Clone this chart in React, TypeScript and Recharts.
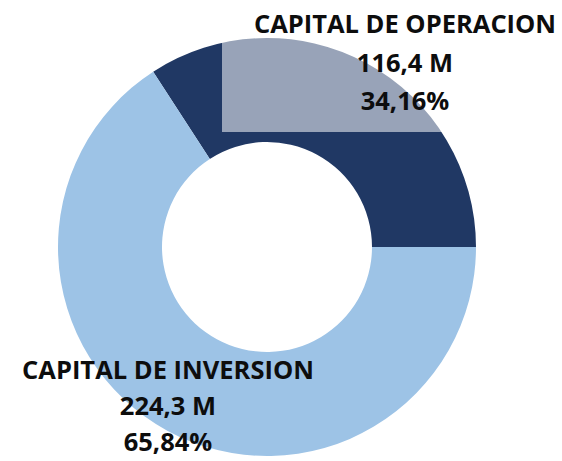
import React from "react";
import { PieChart, Pie, Cell } from "recharts";

const categories = ["CAPITAL DE OPERACION", "CAPITAL DE INVERSION"];
const amounts = [116.4, 224.3];
const COLORS = ["#203864", "#9DC3E6"];

const data = categories.map((name, i) => ({ name, value: amounts[i] }));

const fmt = (n: number, d: number) => n.toFixed(d).replace(".", ",");

const renderLabel = (props: any) => {
  const { cx, cy, index, percent, value } = props;
  // operacion label sits above right, inversion label bottom left
  const x = index === 0 ? cx + 138 : cx - 99;
  const y = index === 0 ? cy - 214 : cy + 132;
  const gap = index === 0 ? 38.5 : 36;
  const textStyle = { fontFamily: "'Open Sans'", fontWeight: 700, fontSize: 25.5, fill: "#0d0d0d" };
  return (
    <g key={`lbl-${index}`}>
      {index === 0 && (
        <rect x={cx - 45} y={0} width={400} height={cy - 115} fill="#fff" fillOpacity={0.54} />
      )}
      <text x={x} y={y} textAnchor="middle" style={textStyle}>
        <tspan x={x} dy={0}>{categories[index]}</tspan>
        <tspan x={x} dy={gap}>{`${fmt(value, 1)} M`}</tspan>
        <tspan x={x} dy={gap}>{`${fmt(percent * 100, 2)}%`}</tspan>
      </text>
    </g>
  );
};

export default function App() {
  return (
    <div style={{ position: "absolute", left: 0, top: 0, width: 562, height: 461, background: "#fff" }}>
      <PieChart width={562} height={461}>
        <Pie
          data={data}
          dataKey="value"
          nameKey="name"
          cx={262}
          cy={242}
          innerRadius={105}
          outerRadius={209}
          startAngle={0}
          endAngle={360}
          stroke="none"
          labelLine={false}
          label={renderLabel}
          isAnimationActive={false}
        >
          {data.map((entry, index) => (
            <Cell key={`cell-${index}`} fill={COLORS[index % COLORS.length]} />
          ))}
        </Pie>
      </PieChart>
    </div>
  );
}
